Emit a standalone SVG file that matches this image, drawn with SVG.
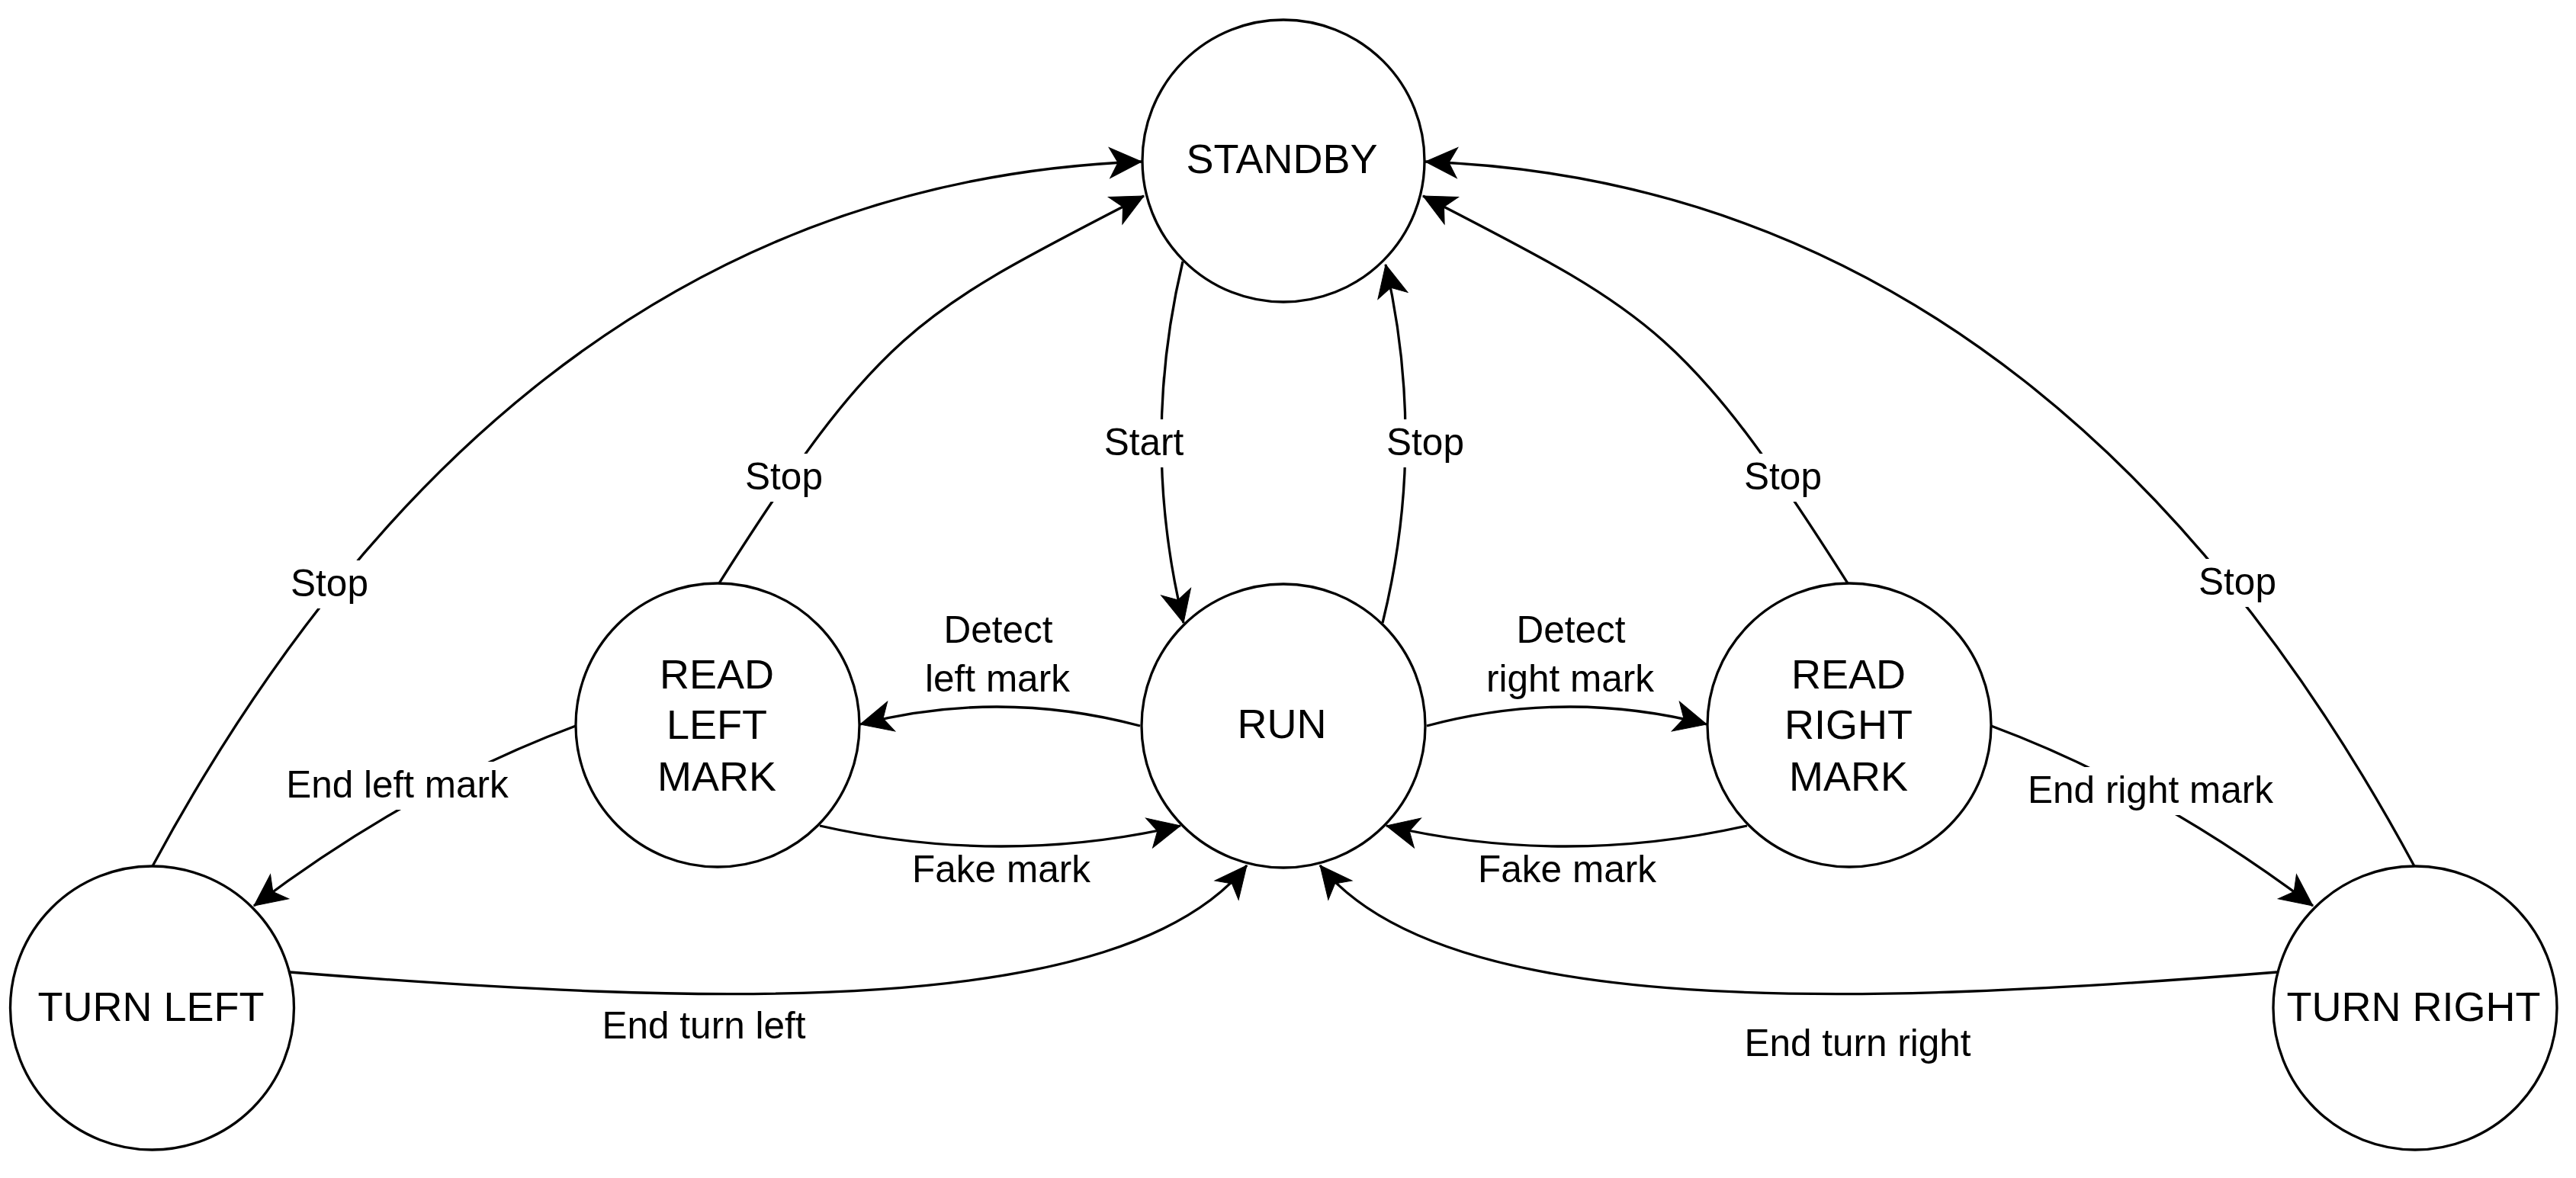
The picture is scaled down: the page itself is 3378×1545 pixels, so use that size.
<svg xmlns="http://www.w3.org/2000/svg" width="3378" height="1545" viewBox="0 0 3378 1545">
<style>
.node circle{fill:#fff;stroke:#000;stroke-width:3.3}
.node text{font-family:"Liberation Sans",Arial,sans-serif;font-size:54px;text-anchor:middle;fill:#000}
.edge{fill:none;stroke:#000;stroke-width:3.3;marker-end:url(#arr)}
.lbl{font-family:"Liberation Sans",Arial,sans-serif;font-size:49.5px;text-anchor:middle;fill:#000}
.bg{fill:#fff}
</style>
<defs>
<marker id="arr" markerUnits="userSpaceOnUse" viewBox="-45 -25 50 50" markerWidth="50" markerHeight="50" refX="0" refY="0" orient="auto" overflow="visible">
<path d="M0,0 L-42,-20 L-31,0 L-42,20 Z" fill="#000" stroke="#000" stroke-width="1"/>
</marker>
</defs>
<rect width="3378" height="1545" fill="#fff"/>
<g id="standby" class="node"><circle cx="1683" cy="211" r="185"/><text x="1681" y="227">STANDBY</text></g>
<g id="run" class="node"><circle cx="1683" cy="952" r="186"/><text x="1681" y="968">RUN</text></g>
<g id="read-left-mark" class="node"><circle cx="941" cy="951" r="186"/><text x="940" y="903">READ</text><text x="940" y="969">LEFT</text><text x="940" y="1037">MARK</text></g>
<g id="read-right-mark" class="node"><circle cx="2425" cy="951" r="186"/><text x="2424" y="903">READ</text><text x="2424" y="969">RIGHT</text><text x="2424" y="1037">MARK</text></g>
<g id="turn-left" class="node"><circle cx="199.5" cy="1322" r="186"/><text x="198" y="1339">TURN LEFT</text></g>
<g id="turn-right" class="node"><circle cx="3167" cy="1322" r="186"/><text x="3165" y="1339">TURN RIGHT</text></g>
<g id="connectors">
<path class="edge" d="M1551,343 Q1494.5,580 1552,817"/>
<path class="edge" d="M1813,817 Q1871,582 1817,347"/>
<path class="edge" d="M1495,952 Q1310.5,903 1128,950"/>
<path class="edge" d="M1075,1083 Q1314.5,1137 1548,1083"/>
<path class="edge" d="M1871,952 Q2055.5,903 2238,950"/>
<path class="edge" d="M2291,1083 Q2051.5,1137 1818,1083"/>
<path class="edge" d="M380,1275 C930,1319 1471,1338 1635,1135"/>
<path class="edge" d="M2986,1275 C2436,1319 1895,1338 1731,1135"/>
<path class="edge" d="M755,952 Q542,1031 333,1188"/>
<path class="edge" d="M2611,952 Q2824,1031 3033,1188"/>
<path class="edge" d="M943,765 C1157,427 1206,409 1500,257"/>
<path class="edge" d="M2423,765 C2209,427 2160,409 1866,257"/>
<path class="edge" d="M200,1136 C465,645 870,235 1497,212"/>
<path class="edge" d="M3166,1136 C2901,645 2496,235 1869,212"/>
<g id="labels">
<rect class="bg" x="1446" y="550" width="108" height="63"/><text class="lbl" x="1500" y="597">Start</text>
<rect class="bg" x="1818" y="550" width="103" height="63"/><text class="lbl" x="1869" y="597">Stop</text>
<text class="lbl" x="1309" y="843">Detect</text><text class="lbl" x="1308" y="907">left mark</text>
<text class="lbl" x="2060" y="843">Detect</text><text class="lbl" x="2059" y="907">right mark</text>
<text class="lbl" x="1313" y="1157">Fake mark</text>
<text class="lbl" x="2055" y="1157">Fake mark</text>
<rect class="bg" x="976" y="595" width="104" height="63"/><text class="lbl" x="1028" y="642">Stop</text>
<rect class="bg" x="2286" y="595" width="104" height="63"/><text class="lbl" x="2338" y="642">Stop</text>
<rect class="bg" x="380" y="735" width="104" height="63"/><text class="lbl" x="432" y="782">Stop</text>
<rect class="bg" x="2882" y="733" width="104" height="63"/><text class="lbl" x="2934" y="780">Stop</text>
<rect class="bg" x="373" y="999" width="296" height="63"/><text class="lbl" x="521" y="1046">End left mark</text>
<rect class="bg" x="2658" y="1006" width="324" height="63"/><text class="lbl" x="2820" y="1053">End right mark</text>
<text class="lbl" x="923" y="1362">End turn left</text>
<text class="lbl" x="2436" y="1385">End turn right</text>
</g>
</g>
</svg>
